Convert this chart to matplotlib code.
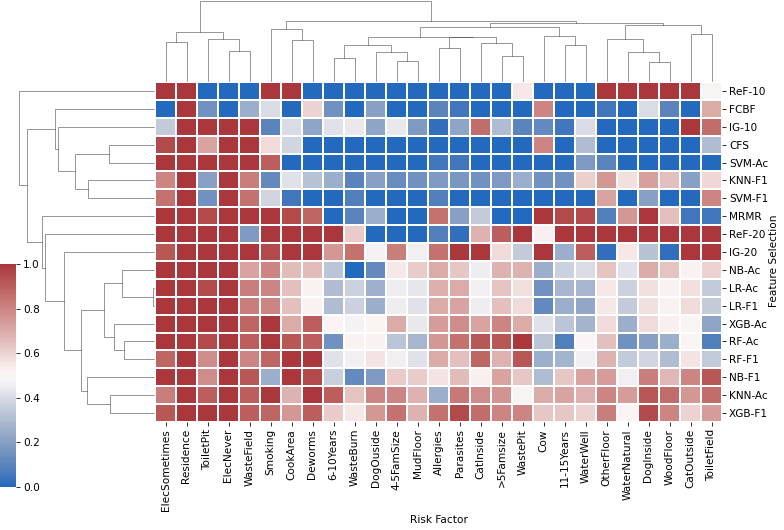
import numpy as np
import pandas as pd
import seaborn as sns
import matplotlib.pyplot as plt

# risk factors (columns) and feature selection methods (rows), in clustered order
risk_factors = ['ElecSometimes', 'Residence', 'ToiletPit', 'ElecNever', 'WasteField', 'Smoking',
                'CookArea', 'Deworms', '6-10Years', 'WasteBurn', 'DogOuside', '4-5FamSize',
                'MudFloor', 'Allergies', 'Parasites', 'CatInside', '>5Famsize', 'WastePit', 'Cow',
                '11-15Years', 'WaterWell', 'OtherFloor', 'WaterNatural', 'DogInside', 'WoodFloor',
                'CatOutside', 'ToiletField']
methods = ['ReF-10', 'FCBF', 'IG-10', 'CFS', 'SVM-Ac', 'KNN-F1', 'SVM-F1', 'MRMR', 'ReF-20',
           'IG-20', 'NB-Ac', 'LR-Ac', 'LR-F1', 'XGB-Ac', 'RF-Ac', 'RF-F1', 'NB-F1', 'KNN-Ac', 'XGB-F1']

ref_10 = [1.0, 1.0, 0.0, 0.0, 0.0, 1.0, 1.0, 0.0, 0.0, 0.0, 0.0, 0.0, 0.0, 0.0, 0.0, 0.0, 0.0, 0.55, 0.0, 0.0, 0.0, 1.0, 1.0, 1.0, 1.0, 1.0, 0.48]
fcbf = [0.0, 1.0, 0.15, 0.0, 0.25, 0.4, 0.0, 0.6, 0.15, 0.0, 0.2, 0.0, 0.0, 0.1, 0.05, 0.0, 0.0, 0.0, 0.8, 0.0, 0.0, 0.05, 0.0, 0.4, 0.1, 0.0, 0.7]
ig_10 = [0.35, 1.0, 1.0, 1.0, 1.0, 0.1, 0.4, 0.22, 0.42, 0.44, 0.22, 0.44, 0.18, 0.02, 0.22, 0.86, 0.3, 0.1, 0.12, 0.05, 0.4, 0.0, 0.0, 0.0, 0.0, 1.0, 0.86]
cfs = [0.95, 1.0, 0.72, 1.0, 1.0, 0.58, 0.38, 0.0, 0.0, 0.0, 0.0, 0.0, 0.0, 0.0, 0.0, 0.0, 0.0, 0.0, 0.8, 0.0, 0.3, 0.0, 0.0, 0.0, 0.0, 0.0, 0.3]
svm_ac = [1.0, 1.0, 1.0, 1.0, 1.0, 0.9, 0.0, 0.0, 0.0, 0.0, 0.0, 0.0, 0.0, 0.05, 0.05, 0.0, 0.0, 0.0, 0.0, 0.0, 0.18, 0.1, 0.0, 0.0, 0.0, 0.0, 0.0]
knn_f1 = [0.8, 1.0, 0.2, 1.0, 0.82, 0.12, 0.42, 0.32, 0.25, 0.1, 0.2, 0.13, 0.15, 0.18, 0.17, 0.15, 0.18, 0.25, 0.15, 0.15, 0.61, 0.75, 0.57, 0.73, 0.65, 0.2, 0.59]
svm_f1 = [0.85, 1.0, 0.15, 1.0, 0.85, 0.38, 0.05, 0.0, 0.0, 0.08, 0.0, 0.0, 0.0, 0.08, 0.0, 0.0, 0.0, 0.0, 0.0, 0.0, 0.0, 0.72, 0.0, 0.2, 0.0, 0.0, 0.8]
mrmr = [1.0, 1.0, 0.95, 1.0, 1.0, 1.0, 0.95, 0.88, 0.0, 0.1, 0.25, 0.0, 0.0, 0.85, 0.2, 0.35, 0.0, 0.0, 1.0, 0.95, 0.95, 0.08, 0.75, 1.0, 0.65, 0.05, 0.05]
ref_20 = [1.0, 1.0, 1.0, 1.0, 0.18, 1.0, 1.0, 1.0, 1.0, 0.62, 0.0, 0.0, 0.0, 0.08, 0.02, 0.68, 0.9, 1.0, 0.53, 1.0, 1.0, 1.0, 1.0, 1.0, 1.0, 1.0, 1.0]
ig_20 = [0.92, 1.0, 1.0, 1.0, 1.0, 0.95, 1.0, 1.0, 0.75, 0.85, 0.47, 0.82, 0.46, 0.85, 1.0, 1.0, 0.58, 0.35, 1.0, 0.25, 0.9, 0.02, 0.55, 0.32, 0.02, 1.0, 1.0]
nb_ac = [1.0, 1.0, 1.0, 1.0, 0.72, 0.8, 0.66, 0.66, 0.33, 0.0, 0.12, 0.55, 0.62, 0.7, 0.63, 0.45, 0.68, 0.68, 0.25, 0.37, 0.4, 0.64, 0.42, 0.7, 0.64, 0.52, 0.6]
lr_ac = [1.0, 1.0, 0.95, 1.0, 0.82, 0.8, 0.65, 0.52, 0.3, 0.37, 0.26, 0.45, 0.43, 0.69, 0.7, 0.46, 0.64, 0.57, 0.15, 0.28, 0.28, 0.55, 0.37, 0.57, 0.52, 0.57, 0.35]
lr_f1 = [1.0, 1.0, 1.0, 1.0, 0.82, 0.8, 0.65, 0.52, 0.3, 0.37, 0.25, 0.45, 0.42, 0.7, 0.72, 0.45, 0.65, 0.58, 0.12, 0.25, 0.23, 0.55, 0.35, 0.57, 0.52, 0.58, 0.35]
xgb_ac = [1.0, 1.0, 1.0, 1.0, 0.88, 1.0, 0.7, 0.9, 0.5, 0.47, 0.51, 0.7, 0.44, 0.74, 0.78, 0.72, 0.8, 0.7, 0.42, 0.33, 0.27, 0.58, 0.25, 0.58, 0.53, 0.51, 0.22]
rf_ac = [1.0, 1.0, 0.95, 1.0, 0.9, 1.0, 0.92, 0.9, 0.15, 0.52, 0.52, 0.33, 0.28, 0.75, 0.85, 0.92, 0.92, 1.0, 0.33, 0.08, 0.5, 0.65, 0.15, 0.2, 0.25, 0.5, 0.08]
rf_f1 = [0.88, 1.0, 0.78, 1.0, 0.8, 0.88, 1.0, 1.0, 0.42, 0.46, 0.56, 0.46, 0.42, 0.7, 0.65, 0.88, 0.68, 0.92, 0.25, 0.27, 0.46, 0.68, 0.35, 0.38, 0.3, 0.56, 0.35]
nb_f1 = [1.0, 1.0, 0.78, 1.0, 0.92, 0.25, 1.0, 0.95, 0.36, 0.12, 0.18, 0.62, 0.62, 0.56, 0.66, 0.53, 0.72, 0.63, 0.3, 0.63, 0.72, 0.74, 0.46, 0.82, 0.67, 0.8, 0.92]
knn_ac = [0.82, 1.0, 0.9, 1.0, 0.9, 1.0, 0.68, 1.0, 0.9, 0.64, 0.8, 0.8, 0.68, 0.25, 0.83, 0.78, 0.76, 0.48, 0.7, 0.72, 0.68, 0.8, 0.74, 0.92, 0.86, 0.75, 0.86]
xgb_f1 = [0.92, 1.0, 1.0, 1.0, 0.9, 0.88, 0.75, 0.9, 0.62, 0.55, 0.75, 0.85, 0.68, 0.85, 0.95, 0.86, 0.8, 0.8, 0.63, 0.63, 0.6, 0.82, 0.5, 0.95, 0.8, 0.6, 0.74]

# linkage trees: (child a, child b, merge height); leaves are 0..n-1, new nodes n, n+1, ...
col_links = [(3, 4, 92), (2, 27, 128), (0, 1, 118), (29, 28, 148), (6, 7, 125), (5, 31, 157),
             (8, 9, 70), (11, 12, 60), (10, 34, 87), (33, 35, 108), (13, 14, 99), (16, 17, 77),
             (15, 38, 115), (37, 39, 133), (36, 40, 135), (19, 20, 108), (18, 42, 138),
             (41, 43, 163), (23, 24, 58), (22, 45, 87), (21, 46, 128), (25, 26, 143),
             (47, 48, 171), (44, 49, 177), (32, 50, 183), (30, 51, 243)]
row_links = [(3, 4, 137), (5, 6, 200), (19, 20, 240), (2, 21, 292), (1, 22, 302), (11, 12, 2),
             (10, 24, 97), (14, 15, 90), (13, 26, 120), (25, 27, 152), (17, 18, 134),
             (16, 29, 202), (28, 30, 222), (9, 31, 272), (8, 32, 332), (7, 33, 340),
             (23, 34, 387), (0, 35, 410)]

df = pd.DataFrame([ref_10, fcbf, ig_10, cfs, svm_ac, knn_f1, svm_f1, mrmr, ref_20, ig_20, nb_ac,
                   lr_ac, lr_f1, xgb_ac, rf_ac, rf_f1, nb_f1, knn_ac, xgb_f1],
                  index=pd.Index(methods, name='Feature Selection'),
                  columns=pd.Index(risk_factors, name='Risk Factor'))

plt.rcParams['font.size'] = 10.5

W, H = 784, 530
fig = plt.figure(figsize=(W / 72, H / 72), dpi=72)


def box(x0, y0, x1, y1):
    # pixel box (from top-left) -> figure fraction
    return [x0 / W, 1 - y1 / H, (x1 - x0) / W, (y1 - y0) / H]


ax = fig.add_axes(box(155, 82, 722, 422))
cax = fig.add_axes(box(0, 264, 16, 487))
ax_top = fig.add_axes(box(155, 1, 722, 81))
ax_left = fig.add_axes(box(19, 82, 154, 422))

sns.heatmap(df, ax=ax, cmap='vlag', vmin=0, vmax=1, linewidths=1.5, linecolor='white', cbar_ax=cax)
ax.yaxis.set_ticks_position('right')
ax.yaxis.set_label_position('right')
ax.set_yticks(np.arange(len(methods)) + 0.5)
ax.set_yticklabels(methods, rotation=0)
ax.set_xticks(np.arange(len(risk_factors)) + 0.5)
ax.set_xticklabels(risk_factors, rotation=90)
ax.yaxis.set_label_coords(1.083, 0.475)


def draw_tree(a, links, n, rotate):
    pos = {i: i + 0.5 for i in range(n)}
    hgt = {i: 0.0 for i in range(n)}
    for k, (l, r, h) in enumerate(links):
        xs = [pos[l], pos[l], pos[r], pos[r]]
        ys = [hgt[l], h, h, hgt[r]]
        if rotate:
            xs, ys = ys, xs
        a.plot(xs, ys, color=(.2, .2, .2), lw=0.5, clip_on=False)
        pos[n + k] = (pos[l] + pos[r]) / 2
        hgt[n + k] = h
    a.set_axis_off()


draw_tree(ax_top, col_links, len(risk_factors), False)
ax_top.set_xlim(0, len(risk_factors))
ax_top.set_ylim(0, col_links[-1][2])

draw_tree(ax_left, row_links, len(methods), True)
ax_left.set_ylim(len(methods), 0)
ax_left.set_xlim(row_links[-1][2], 0)

fig.savefig('out.png', dpi=72)
